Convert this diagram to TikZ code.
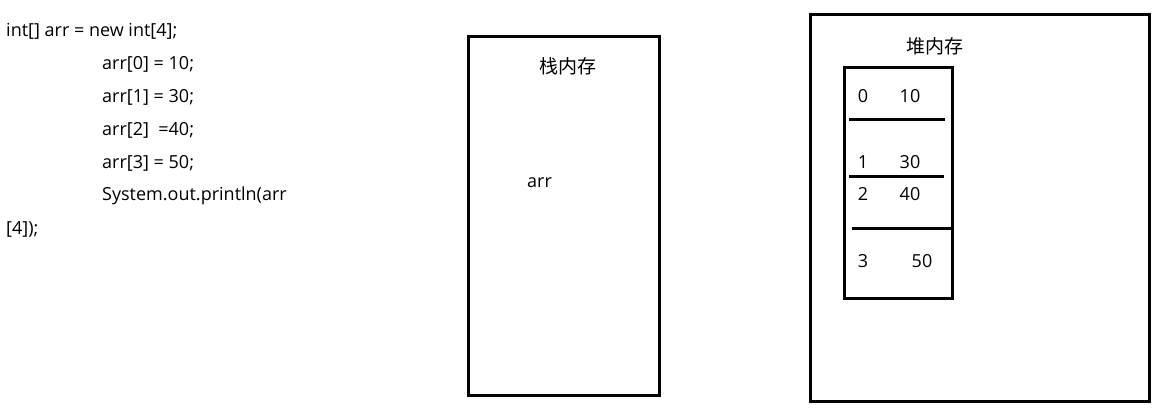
\documentclass[tikz,border=0pt]{standalone}
\usepackage{fontspec}
\setmainfont{Open Sans}
\newfontfamily\cjk{Noto Sans CJK SC}
\begin{document}
\begin{tikzpicture}[x=1pt,y=-1pt,
  txt/.style={inner sep=0pt, font=\fontsize{18}{20}\selectfont},
  cjktxt/.style={inner sep=0pt, font=\fontsize{19}{21}\selectfont\cjk},
  box/.style={draw, line width=3pt},
  sep/.style={line width=3pt}]
\useasboundingbox (0,0) rectangle (1161,417);
% code
\node[txt, anchor=west] (c1) at (6,31) {int[] arr = new int[4];};
\node[txt, anchor=west] (c2) at (102,64) {arr[0] = 10;};
\node[txt, anchor=west] (c3) at (102,97) {arr[1] = 30;};
\node[txt, anchor=west] (c4) at (102,130) {arr[2] \ =40;};
\node[txt, anchor=west] (c5) at (102,163) {arr[3] = 50;};
\node[txt, anchor=west] (c6) at (102,196) {System.out.println(arr};
\node[txt, anchor=west] (c7) at (6,229) {[4]);};
% stack
\draw[box] (468,37) rectangle (659,395);
\node[cjktxt] (stk) at (568,66) {栈内存};
\node[txt, anchor=west] (arr) at (527,183) {arr};
% heap
\draw[box] (810,15) rectangle (1149,401);
\node[cjktxt] (heap) at (935,46) {堆内存};
\draw[box] (844,68) rectangle (952,298);
\coordinate (l1a) at (849,120); \coordinate (l1b) at (945,120);
\coordinate (l2a) at (849,176); \coordinate (l2b) at (944,176);
\coordinate (l3a) at (852,228); \coordinate (l3b) at (951,228);
\draw[sep] (l1a) -- (l1b);
\draw[sep] (l2a) -- (l2b);
\draw[sep] (l3a) -- (l3b);
\node[txt] (i0) at (863,96) {0};
\node[txt] (v0) at (910,96) {10};
\node[txt] (i1) at (863,162) {1};
\node[txt] (v1) at (910,162) {30};
\node[txt] (i2) at (863,194) {2};
\node[txt] (v2) at (910,194) {40};
\node[txt] (i3) at (863,261) {3};
\node[txt] (v3) at (922,261) {50};
\end{tikzpicture}
\end{document}
